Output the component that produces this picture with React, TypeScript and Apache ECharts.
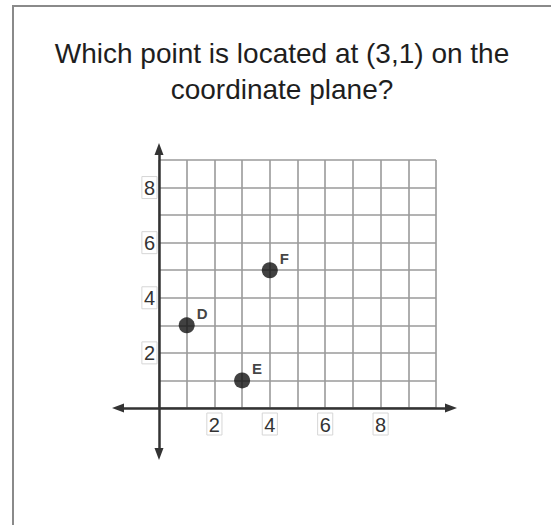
import React, { useEffect, useRef } from "react";
import * as echarts from "echarts";

const titleLines = ["Which point is located at (3,1) on the", "coordinate plane?"];
const xTickLabels = [2, 4, 6, 8];
const yTickLabels = [2, 4, 6, 8];
const pointNames = ["D", "E", "F"];
const pointX = [1, 3, 4];
const pointY = [3, 1, 5];
const xRange = [0, 10];
const yRange = [0, 9];
const xArrowRange = [-1.48, 10.54];
const yArrowRange = [-1.67, 9.4];

export default function App() {
  const ref = useRef<HTMLDivElement>(null);
  useEffect(() => {
    if (!ref.current) return;
    const chart = echarts.init(ref.current, null, { renderer: "svg" });
    const font = "'Liberation Sans', Arial, sans-serif";
    const labelStyle = {
      fontFamily: font,
      fontSize: 20,
      color: "#333",
      borderColor: "#d6d6d6",
      borderWidth: 1,
      padding: [2, 2, 0, 2],
    };
    chart.setOption({
      animation: false,
      backgroundColor: "#fff",
      grid: [
        { left: 159, right: 115, top: 160, bottom: 117 },
        { left: 118, right: 100, top: 149, bottom: 71 },
      ],
      xAxis: [
        {
          gridIndex: 0,
          type: "value",
          min: xRange[0],
          max: xRange[1],
          interval: 1,
          axisLine: { show: false },
          axisTick: { show: false },
          splitLine: { show: true, lineStyle: { color: "#9a9a9a", width: 1.6 } },
          axisLabel: { ...labelStyle, customValues: xTickLabels, margin: 5 },
        },
        {
          gridIndex: 1,
          type: "value",
          min: xArrowRange[0],
          max: xArrowRange[1],
          axisLine: {
            show: true,
            onZero: true,
            symbol: ["triangle", "triangle"],
            symbolSize: [9, 12],
            lineStyle: { color: "#333", width: 2.5 },
          },
          axisTick: { show: false },
          axisLabel: { show: false },
          splitLine: { show: false },
        },
      ],
      yAxis: [
        {
          gridIndex: 0,
          type: "value",
          min: yRange[0],
          max: yRange[1],
          interval: 1,
          axisLine: { show: false },
          axisTick: { show: false },
          splitLine: { show: true, lineStyle: { color: "#9a9a9a", width: 1.6 } },
          axisLabel: { ...labelStyle, customValues: yTickLabels, margin: 2 },
        },
        {
          gridIndex: 1,
          type: "value",
          min: yArrowRange[0],
          max: yArrowRange[1],
          axisLine: {
            show: true,
            onZero: true,
            symbol: ["triangle", "triangle"],
            symbolSize: [9, 12],
            lineStyle: { color: "#333", width: 2.5 },
          },
          axisTick: { show: false },
          axisLabel: { show: false },
          splitLine: { show: false },
        },
      ],
      series: [
        {
          type: "scatter",
          xAxisIndex: 0,
          yAxisIndex: 0,
          symbol: "circle",
          symbolSize: 16,
          itemStyle: { color: "#111" },
          data: pointNames.map((n, i) => ({ name: n, value: [pointX[i], pointY[i]] })),
          label: {
            show: true,
            position: "right",
            distance: 2,
            offset: [0, -12],
            formatter: (p: any) => p.name,
            fontFamily: font,
            fontWeight: "bold",
            fontSize: 15,
            color: "#111",
          },
          z: 10,
        },
      ],
      graphic: [
        { type: "line", shape: { x1: 12, y1: 6, x2: 551, y2: 6 }, style: { stroke: "#8a8a8a", lineWidth: 2 } },
        { type: "line", shape: { x1: 13, y1: 6, x2: 13, y2: 525 }, style: { stroke: "#8a8a8a", lineWidth: 2 } },
        ...titleLines.map((t, i) => ({
          type: "text",
          x: 282,
          y: 53 + i * 36,
          style: {
            text: t,
            fontFamily: font,
            fontSize: 28,
            fill: "#1e1e1e",
            textAlign: "center",
            textVerticalAlign: "middle",
          },
        })),
      ],
    });
    return () => chart.dispose();
  }, []);
  return (
    <div
      ref={ref}
      style={{ position: "absolute", left: 0, top: 0, width: 551, height: 525, background: "#fff" }}
    />
  );
}
